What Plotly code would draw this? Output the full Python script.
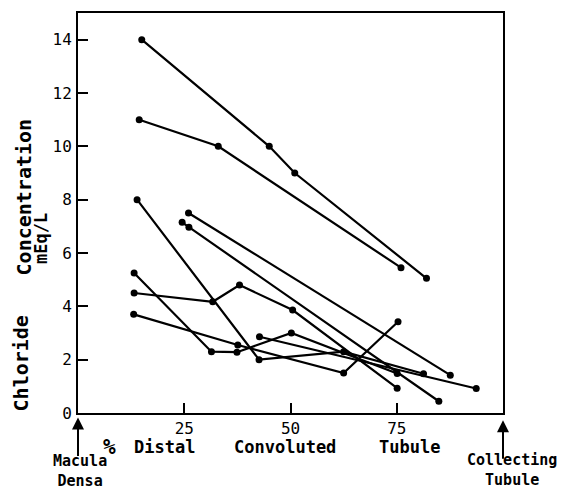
import plotly.graph_objects as go

# % of distal convoluted tubule length (x) and chloride concentration, mEq/L (y)
x_a = [15, 45, 51, 82];          y_a = [14, 10, 9, 5.05]
x_b = [14.4, 33, 76];            y_b = [11, 10, 5.45]
x_c = [13.9, 42.6, 62.5, 81.3];  y_c = [8, 2, 2.3, 1.47]
x_d = [26, 87.6];                y_d = [7.5, 1.42]
x_e = [24.5, 26.1, 84.9];        y_e = [7.15, 6.97, 0.44]
x_f = [13.2, 31.4, 37.4, 50.2, 75.1]; y_f = [5.25, 2.3, 2.28, 3.0, 1.48]
x_g = [13.2, 31.7, 38, 50.5, 75.1];   y_g = [4.5, 4.17, 4.8, 3.86, 0.93]
x_h = [13.1, 37.6, 62.5, 75.3];  y_h = [3.7, 2.55, 1.5, 3.42]
x_i = [42.7, 93.7];              y_i = [2.86, 0.92]

series = [(x_a, y_a), (x_b, y_b), (x_c, y_c), (x_d, y_d), (x_e, y_e),
          (x_f, y_f), (x_g, y_g), (x_h, y_h), (x_i, y_i)]

x_ticks = [25, 50, 75]
y_ticks = [0, 2, 4, 6, 8, 10, 12, 14]

FONT = "DejaVu Sans Mono"

fig = go.Figure()
for xs, ys in series:
    fig.add_trace(go.Scatter(
        x=xs, y=ys, mode="lines+markers",
        line=dict(color="black", width=2.2),
        marker=dict(color="black", size=7),
        showlegend=False, hoverinfo="skip"))

# page body adds an 8px margin, so the figure is laid out 8px up/left
fig.update_layout(
    width=559, height=484,
    margin=dict(l=70, r=64, t=3, b=79),
    paper_bgcolor="white", plot_bgcolor="white",
    font=dict(family=FONT, color="black", size=16),
)
fig.update_xaxes(
    range=[0, 100], tickvals=x_ticks, ticktext=[str(v) for v in x_ticks],
    ticks="inside", ticklen=10, tickwidth=2, tickcolor="black",
    showline=True, linecolor="black", linewidth=2, mirror=True,
    showgrid=False, zeroline=False,
    tickfont=dict(family=FONT, size=16), ticklabelstandoff=0)
fig.update_yaxes(
    range=[0, 15], tickvals=y_ticks, ticktext=[str(v) for v in y_ticks],
    ticks="inside", ticklen=10, tickwidth=2, tickcolor="black",
    showline=True, linecolor="black", linewidth=2, mirror=True,
    showgrid=False, zeroline=False,
    tickfont=dict(family=FONT, size=16), ticklabelstandoff=1)

def txt(t, x, y, size=17, angle=0):
    fig.add_annotation(text="<b>" + t + "</b>", x=x, y=y, xref="paper", yref="paper",
                       showarrow=False, textangle=angle,
                       font=dict(family=FONT, size=size, color="black"),
                       xanchor="center", yanchor="middle")

# axis titles
txt("Chloride", -0.134, 0.124, size=20, angle=-90)
txt("Concentration", -0.127, 0.539, size=20, angle=-90)
txt("mEq/L", -0.087, 0.435, size=17, angle=-90)
txt("%", 0.075, -0.085, size=21)
txt("Distal", 0.2035, -0.085)
txt("Convoluted", 0.487, -0.085)
txt("Tubule", 0.781, -0.085)
txt("Macula<br>Densa", 0.005, -0.146, size=15)
txt("Collecting<br>Tubule", 1.02, -0.143, size=15)

# arrows
for xp, yp in [(0.0, -0.011), (1.0, -0.018)]:
    fig.add_annotation(text="", x=xp, y=yp, xref="paper", yref="paper",
                       showarrow=True, ax=0, ay=40, arrowhead=2, arrowsize=1.2,
                       arrowwidth=2, arrowcolor="black")

fig.write_html("out.html")
